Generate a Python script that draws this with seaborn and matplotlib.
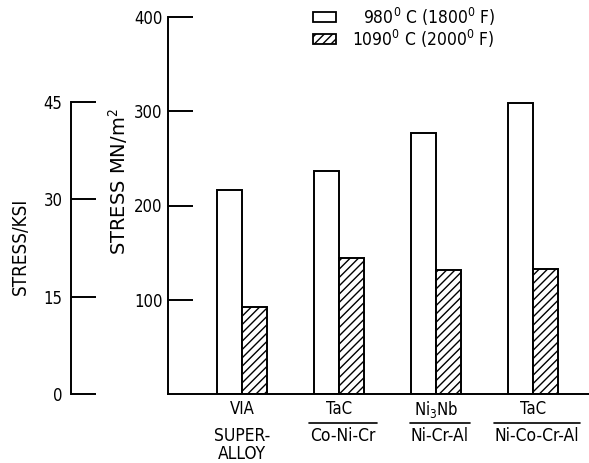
import matplotlib
matplotlib.use("Agg")
import matplotlib.pyplot as plt
import seaborn as sns
import pandas as pd
from matplotlib.patches import Rectangle
from matplotlib.transforms import blended_transform_factory

# values (MN/m^2)
groups      = ["VIA", "TaC/Co-Ni-Cr", "Ni3Nb/Ni-Cr-Al", "TaC/Ni-Co-Cr-Al"]
stress_980  = [216, 237, 277, 309]
stress_1090 = [92, 144, 132, 133]
temps       = ["980$^0$ C (1800$^0$ F)", "1090$^0$ C (2000$^0$ F)"]

top_labels    = ["VIA", "TaC", "Ni$_3$Nb", "TaC"]
bottom_labels = [["SUPER-", "ALLOY"], ["Co-Ni-Cr"], ["Ni-Cr-Al"], ["Ni-Co-Cr-Al"]]
fraction_bar  = [False, True, True, True]

mn_ticks  = [100, 200, 300, 400]
ksi_ticks = [0, 15, 30, 45]
MN_PER_KSI = 6.895

df = pd.DataFrame({
    "group":  groups * 2,
    "temp":   [temps[0]] * 4 + [temps[1]] * 4,
    "stress": stress_980 + stress_1090,
})

sns.set_style("white")
plt.rcParams.update({
    "font.family": ["DejaVu Sans"],
    "font.stretch": "condensed",
    "mathtext.fontset": "dejavusans",
    "hatch.linewidth": 1.0,
    "hatch.color": "black",
    "text.color": "black",
    "axes.labelcolor": "black",
    "xtick.color": "black",
    "ytick.color": "black",
    "ytick.left": True,
})

W, H = 589, 463
fig = plt.figure(figsize=(W / 100, H / 100), dpi=100)

y0, y400 = 394, 17
bottom = (H - y0) / H
height = (y0 - y400) / H
ax = fig.add_axes([168 / W, bottom, 1 - 168 / W, height])

sns.barplot(data=df, x="group", y="stress", hue="temp",
            palette=["white", "white"], edgecolor="black", linewidth=1.4,
            width=0.52, gap=0, legend=False, ax=ax)
for bar in ax.containers[1]:
    bar.set_hatch("////")

ax.set_ylim(0, 400)
ax.set_xlim(-0.763, 3.577)
ax.set_yticks(mn_ticks)
ax.set_yticklabels([str(t) for t in mn_ticks], fontsize=12)
ax.tick_params(axis="y", left=True, direction="in", length=18, width=1.4, pad=4)
ax.tick_params(axis="x", length=0)
ax.set_xticklabels([])
ax.set_xlabel("")
ax.set_ylabel("")
for side in ["top", "right"]:
    ax.spines[side].set_visible(False)
for side in ["left", "bottom"]:
    ax.spines[side].set_linewidth(1.4)
    ax.spines[side].set_color("black")

fig.text(118 / W, 1 - 182 / H, "STRESS MN/m$^2$", rotation=90,
         ha="center", va="center", fontsize=14, fontstretch="normal")

# second scale in ksi
ax2 = fig.add_axes([71 / W, bottom, 0.01, height])
ax2.set_ylim(0, 400 / MN_PER_KSI)
ax2.set_yticks(ksi_ticks)
ax2.set_yticklabels([str(t) for t in ksi_ticks], fontsize=12)
ax2.tick_params(axis="y", left=True, direction="in", length=18, width=1.4, pad=6)
ax2.set_xticks([])
for side in ["top", "right", "bottom"]:
    ax2.spines[side].set_visible(False)
ax2.spines["left"].set_bounds(0, 45)
ax2.spines["left"].set_linewidth(1.4)
ax2.spines["left"].set_color("black")
ax2.patch.set_alpha(0)
fig.text(20 / W, 1 - 246 / H, "STRESS/KSI", rotation=90,
         ha="center", va="center", fontsize=13.5)

# category labels, some written as fractions
trans = blended_transform_factory(ax.transData, fig.transFigure)
fig.canvas.draw()
renderer = fig.canvas.get_renderer()
inv = ax.transData.inverted()
for i, (top, lows, frac) in enumerate(zip(top_labels, bottom_labels, fraction_bar)):
    ax.text(i, 1 - 409 / H, top, transform=trans, ha="center", va="center",
            fontsize=12, clip_on=False)
    for j, low in enumerate(lows):
        t = ax.text(i + (0.04 if frac else 0), 1 - (436 + 18 * j) / H, low,
                    transform=trans, ha="center", va="center", fontsize=12.5,
                    clip_on=False)
    if not frac:
        continue
    bb = t.get_window_extent(renderer)
    xa = inv.transform((bb.x0 - 1, 0))[0]
    xb = inv.transform((bb.x1 + 1, 0))[0]
    ax.plot([xa, xb], [1 - 423 / H] * 2, transform=trans, color="black",
            lw=1.2, clip_on=False)

# legend drawn by hand like the original key
for label, hatch, ytop, xtxt in zip(temps, [None, "////"], [12, 34], [363, 352]):
    fig.patches.append(Rectangle((313 / W, 1 - (ytop + 10) / H), 23 / W, 10 / H,
                                 transform=fig.transFigure, facecolor="white",
                                 edgecolor="black", lw=1.3, hatch=hatch))
    fig.text(xtxt / W, 1 - (ytop + 5) / H, label, ha="left", va="center",
             fontsize=12.5)

fig.savefig("out.png", dpi=100)
